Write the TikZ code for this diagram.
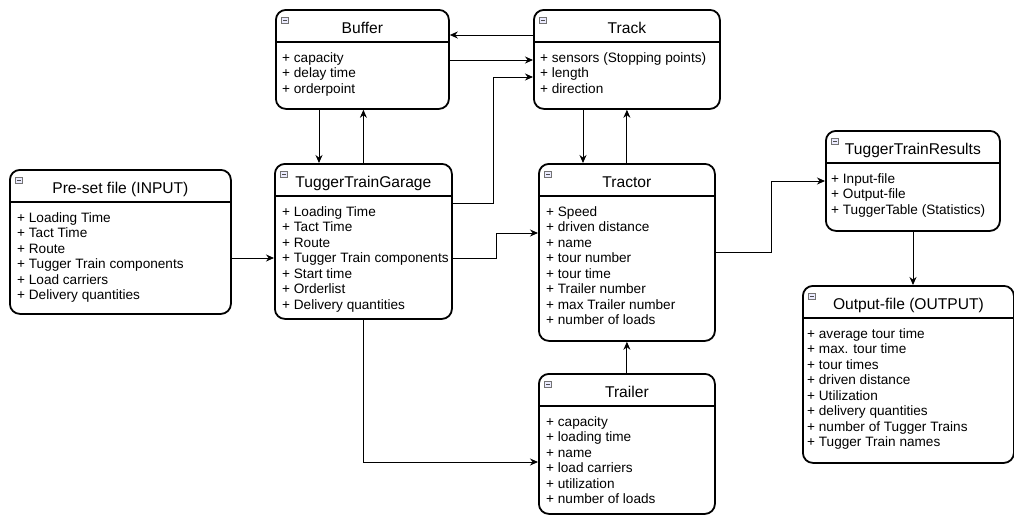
\documentclass[tikz,border=0pt]{standalone}
\usepackage{fontspec}
\setmainfont{Liberation Sans}
\usepackage{tikz}
\usetikzlibrary{positioning, arrows.meta}
\tikzset{
  cls/.style={
    draw, rectangle, rounded corners=10pt,
    line width=1.8pt, fill=white, inner sep=0pt
  },
  sepl/.style={line width=1.8pt},
  ttl/.style={font=\fontsize{15.6}{18}\selectfont, inner sep=0pt},
  att/.style={
    font=\fontsize{13.6}{15.5}\selectfont,
    align=left, inner sep=0pt
  },
  tgl/.style={
    draw=black!55, fill=blue!8, line width=0.6pt,
    minimum width=7pt, minimum height=6pt, inner sep=0pt,
    path picture={\draw[black!70, line width=0.9pt]
      ([xshift=1.5pt]path picture bounding box.west) --
      ([xshift=-1.5pt]path picture bounding box.east);}
  },
  arr/.style={-{Stealth[length=8pt, width=7pt]}, line width=0.9pt},
}
% [indent]{name}{left}{top}{width}{height}{title}{attributes}
\newcommand{\classbox}[8][7]{%
  \node[cls, minimum width=#5pt, minimum height=#6pt, anchor=north west] (#2) at (#3,#4) {};
  \draw[sepl] ([yshift=-33pt]#2.north west) -- ([yshift=-33pt]#2.north east);
  \node[ttl, anchor=base] (#2-ttl) at ([yshift=-24pt]#2.north) {#7};
  \node[att, anchor=north west] (#2-att) at ([xshift=#1pt, yshift=-43.3pt]#2.north west) {#8};
  \node[tgl] (#2-tgl) at ([xshift=10pt, yshift=-11pt]#2.north west) {};
}

\begin{document}
\begin{tikzpicture}[x=1pt, y=-1pt]
  \useasboundingbox (0,0) rectangle (1014,515);

  \classbox{buffer}{275}{9}{173}{99}{Buffer}%
    {+ capacity\\+ delay time\\+ orderpoint}
  \classbox{track}{533}{9}{186}{99}{Track}%
    {+ sensors (Stopping points)\\+ length\\+ direction}
  \classbox[8]{pre}{9}{169}{221}{144}{Pre-set file (INPUT)}%
    {+ Loading Time\\+ Tact Time\\+ Route\\+ Tugger Train components\\+ Load carriers\\+ Delivery quantities}
  \classbox[8]{garage}{274}{163}{177}{155}{TuggerTrainGarage}%
    {+ Loading Time\\+ Tact Time\\+ Route\\+ Tugger Train components\\+ Start time\\+ Orderlist\\+ Delivery quantities}
  \classbox[8]{tractor}{538}{163}{176}{177}{Tractor}%
    {+ Speed\\+ driven distance\\+ name\\+ tour number\\+ tour time\\+ Trailer number\\+ max Trailer number\\+ number of loads}
  \classbox[8]{trailer}{538}{373}{176}{140}{Trailer}%
    {+ capacity\\+ loading time\\+ name\\+ load carriers\\+ utilization\\+ number of loads}
  \classbox[6]{results}{825}{130}{174}{100}{TuggerTrainResults}%
    {+ Input-file\\+ Output-file\\+ TuggerTable (Statistics)}
  \classbox[5]{output}{802}{285}{211}{177}{Output-file (OUTPUT)}%
    {+ average tour time\\+ max. tour time\\+ tour times\\+ driven distance\\+ Utilization\\+ delivery quantities\\+ number of Tugger Trains\\+ Tugger Train names}

  % connectors
  \draw[arr] ([yshift=-26pt]track.north west) -- ([yshift=-26pt]buffer.north east);
  \draw[arr] ([yshift=-51pt]buffer.north east) -- ([yshift=-51pt]track.north west);
  \draw[arr] ([yshift=-40pt]garage.north east) -- ++(41,0) |- ([yshift=-68pt]track.north west);
  \draw[arr] ([xshift=44pt]buffer.south west) -- ([xshift=44pt]buffer.south west |- garage.north);
  \draw[arr] (garage.north) -- (garage.north |- buffer.south);
  \draw[arr] ([xshift=50pt]track.south west) -- ([xshift=50pt]track.south west |- tractor.north);
  \draw[arr] (tractor.north) -- (tractor.north |- track.south);
  \draw[arr] ([yshift=-89pt]pre.north east) -- ([yshift=-89pt]pre.north east -| garage.west);
  \draw[arr] ([yshift=-95pt]garage.north east) -- ++(44,0) |- ([yshift=-70pt]tractor.north west);
  \draw[arr] (trailer.north) -- (tractor.south);
  \draw[arr] (garage.south) |- ([yshift=-89pt]trailer.north west);
  \draw[arr] ([yshift=-89pt]tractor.north east) -- ++(56,0) |- ([yshift=-51pt]results.north west);
  \draw[arr] ([xshift=88pt]results.south west) -- ([xshift=88pt]results.south west |- output.north);
\end{tikzpicture}
\end{document}
